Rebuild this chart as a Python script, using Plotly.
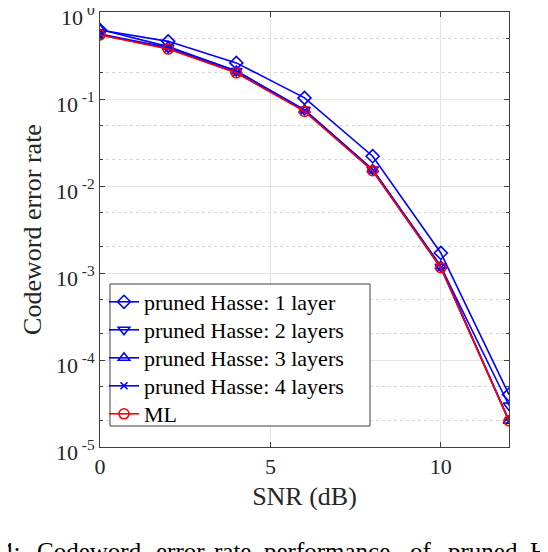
import plotly.graph_objects as go

snr = [0, 2, 4, 6, 8, 10, 12]
hasse_1 = [0.62, 0.46, 0.26, 0.103, 0.022, 0.0017, 4.0e-5]
hasse_2 = [0.56, 0.39, 0.21, 0.075, 0.0155, 0.00118, 3.0e-5]
hasse_3 = [0.63, 0.40, 0.21, 0.075, 0.0155, 0.0012, 2.0e-5]
hasse_4 = [0.55, 0.38, 0.20, 0.073, 0.015, 0.00115, 2.0e-5]
ml = [0.545, 0.375, 0.20, 0.072, 0.015, 0.00115, 2.0e-5]

y_tick_vals = [1e-5, 1e-4, 1e-3, 1e-2, 1e-1, 1]
y_tick_text = ["10<sup> -5</sup>", "10<sup> -4</sup>", "10<sup> -3</sup>",
               "10<sup> -2</sup>", "10<sup> -1</sup>", "10<sup> 0</sup>"]
x_tick_vals = [0, 5, 10]
x_tick_text = ["0", "5", "10"]

series_names = ["pruned Hasse: 1 layer", "pruned Hasse: 2 layers",
                "pruned Hasse: 3 layers", "pruned Hasse: 4 layers", "ML"]
series_vals = [hasse_1, hasse_2, hasse_3, hasse_4, ml]
symbols = ["diamond-open", "triangle-down-open", "triangle-up-open", "x-thin-open", "circle-open"]
colors = ["#0000ff", "#0000ff", "#0000ff", "#0000ff", "#ff0000"]
sizes = [10, 10, 10, 7, 10]

caption_words = ["4:", "Codeword", "error", "rate", "performance", "of", "pruned", "Hasse"]
caption_x = [-1, 35, 154, 212, 262, 408, 446, 528]

FONT = "Liberation Serif"

OFF = 8  # page body offset
W, H = 540, 544
ML_, MT = 100 - OFF, 12 - OFF
PR, PB = 509 - OFF, 447 - OFF
MR, MB = W - PR, H - PB
PW, PH = PR - ML_, PB - MT


def px(xs):
    return (xs - OFF - ML_) / PW


def py(ys):
    return (PB - (ys - OFF)) / PH


legend_rows = [302, 330, 358, 386, 414]
legend_ids = ["legend", "legend2", "legend3", "legend4", "legend5"]

fig = go.Figure()
for name, vals, sym, col, sz, lid in zip(series_names, series_vals, symbols, colors, sizes, legend_ids):
    fig.add_trace(go.Scatter(
        x=snr, y=vals, mode="lines+markers", name=name, legend=lid,
        line=dict(color=col, width=1.6),
        marker=dict(symbol=sym, size=sz, color=col, line=dict(color=col, width=1.6)),
    ))

for w, xp in zip(caption_words, caption_x):
    fig.add_annotation(
        text=w, xref="paper", yref="paper",
        x=px(xp), y=py(551),
        xanchor="left", yanchor="middle", showarrow=False,
        font=dict(family=FONT, size=25, color="black"),
    )

# legend box (MATLAB style, drawn beneath the legend entries)
fig.add_shape(type="rect", xref="paper", yref="paper",
              x0=px(110), x1=px(370), y0=py(426), y1=py(284),
              fillcolor="white", line=dict(color="#404040", width=1), layer="above")

legend_layout = {}
for lid, row in zip(legend_ids, legend_rows):
    legend_layout[lid] = dict(
        x=px(104), y=py(row), xanchor="left", yanchor="middle",
        bgcolor="rgba(0,0,0,0)", borderwidth=0,
        font=dict(family=FONT, size=22, color="black"),
        itemwidth=30,
    )

fig.update_layout(
    width=W, height=H,
    margin=dict(l=ML_, r=MR, t=MT, b=MB, autoexpand=False),
    paper_bgcolor="white", plot_bgcolor="white",
    font=dict(family=FONT, size=22, color="#262626"),
    showlegend=True,
    **legend_layout,
    xaxis=dict(
        range=[0, 12], tickvals=x_tick_vals, ticktext=x_tick_text,
        showline=True, linecolor="#404040", linewidth=1, mirror="ticks",
        ticks="inside", ticklen=5, tickcolor="#404040",
        showgrid=True, gridcolor="#e3e3e3", gridwidth=1,
        zeroline=False, automargin=False,
        title=dict(text="SNR (dB)", font=dict(family=FONT, size=26, color="#262626"), standoff=8),
        tickfont=dict(family=FONT, size=22, color="#262626"),
    ),
    yaxis=dict(
        type="log", range=[-5, 0], tickvals=y_tick_vals, ticktext=y_tick_text,
        ticklabeloverflow="allow", ticklabelshift=5,
        showline=True, linecolor="#404040", linewidth=1, mirror="ticks",
        ticks="inside", ticklen=5, tickcolor="#404040",
        showgrid=True, gridcolor="#e3e3e3", gridwidth=1,
        zeroline=False, automargin=False,
        minor=dict(ticks="inside", ticklen=3, tickcolor="#404040",
                   showgrid=True, gridcolor="#d6d6d6", griddash="dot", gridwidth=1),
        title=dict(text="Codeword error rate", font=dict(family=FONT, size=26, color="#262626"), standoff=6),
        tickfont=dict(family=FONT, size=22, color="#262626"),
    ),
)

fig.write_html("out.html")
